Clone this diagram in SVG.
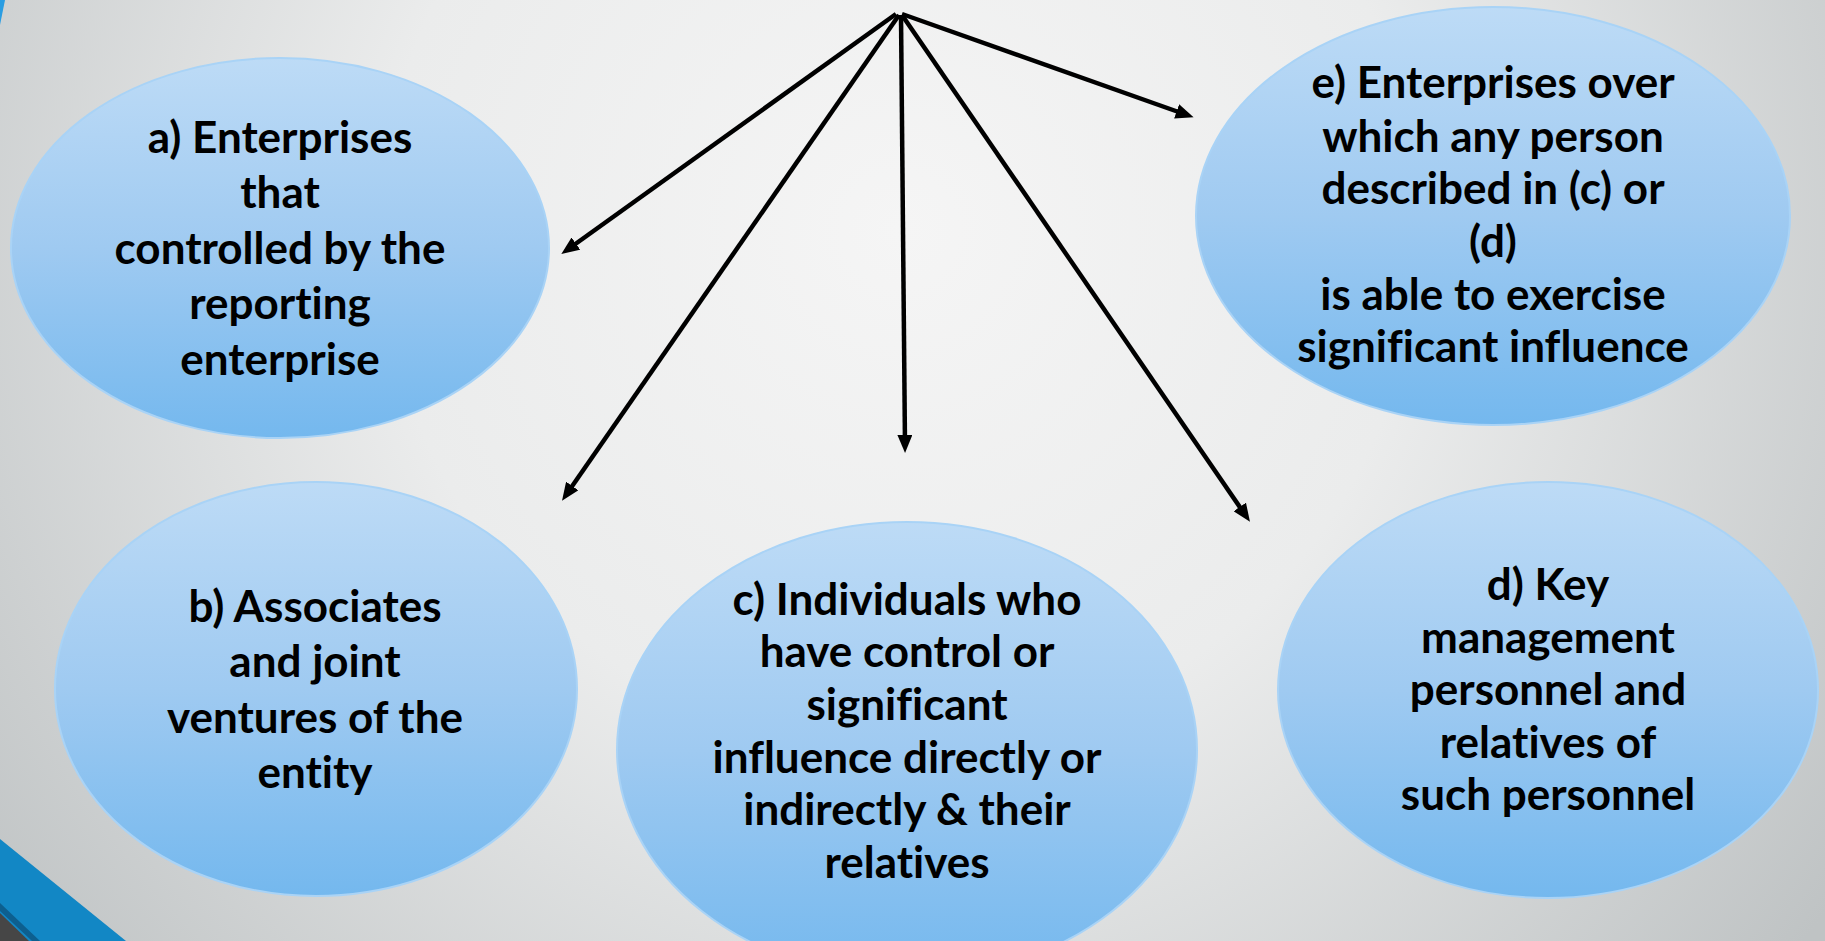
<svg xmlns="http://www.w3.org/2000/svg" width="1825" height="941" viewBox="0 0 1825 941">
<defs>
<radialGradient id="bg" cx="900" cy="230" r="1150" gradientUnits="userSpaceOnUse">
<stop offset="0" stop-color="#f5f5f5"/>
<stop offset="0.45" stop-color="#ebecec"/>
<stop offset="1" stop-color="#bfc3c4"/>
</radialGradient>
<linearGradient id="fill" x1="0" y1="0" x2="0" y2="1">
<stop offset="0" stop-color="#bddbf6"/>
<stop offset="0.5" stop-color="#9fcaf1"/>
<stop offset="1" stop-color="#74b8ee"/>
</linearGradient>
<marker id="ah" viewBox="0 0 18 15" refX="11" refY="7.5" markerWidth="18" markerHeight="15" markerUnits="userSpaceOnUse" orient="auto">
<path d="M0,0 L18,7.5 L0,15 z" fill="#000"/>
</marker>
</defs>
<style>
.node ellipse{fill:url(#fill);stroke:#a9d3f6;stroke-width:2}
.node text{font-family:Lato,"Liberation Sans",sans-serif;font-weight:bold;font-size:44px;fill:#000;text-anchor:middle;font-variant-ligatures:none}
.conn line{stroke:#000;stroke-width:4.5;marker-end:url(#ah)}
</style>
<rect x="0" y="0" width="1825" height="941" fill="url(#bg)"/>
<polygon points="0,0 5,0 0,25" fill="#2a9de2"/>
<polygon points="0,839 126,941 0,941" fill="#1287c5"/>
<polygon points="0,903 40,941 32,941 0,911" fill="#0d5f8f"/>
<polygon points="0,913 29,941 0,941" fill="#464646"/>

<g id="node-a" class="node">
<ellipse cx="280" cy="248" rx="269" ry="190"/>
<text x="280" y="153">a) Enterprises</text>
<text x="280" y="208">that</text>
<text x="280" y="264">controlled by the</text>
<text x="280" y="319">reporting</text>
<text x="280" y="375">enterprise</text>
</g>
<g id="node-b" class="node">
<ellipse cx="316" cy="689" rx="261" ry="207"/>
<text x="315" y="622">b) Associates</text>
<text x="315" y="677">and joint</text>
<text x="315" y="733">ventures of the</text>
<text x="315" y="788">entity</text>
</g>
<g id="node-c" class="node">
<ellipse cx="907" cy="750" rx="290" ry="228"/>
<text x="907" y="615">c) Individuals who</text>
<text x="907" y="667">have control or</text>
<text x="907" y="720">significant</text>
<text x="907" y="773">influence directly or</text>
<text x="907" y="825">indirectly &amp; their</text>
<text x="907" y="878">relatives</text>
</g>
<g id="node-d" class="node">
<ellipse cx="1548" cy="690" rx="270" ry="208"/>
<text x="1548" y="600">d) Key</text>
<text x="1548" y="653">management</text>
<text x="1548" y="705">personnel and</text>
<text x="1548" y="758">relatives of</text>
<text x="1548" y="810">such personnel</text>
</g>
<g id="node-e" class="node">
<ellipse cx="1493" cy="216" rx="297" ry="209"/>
<text x="1493" y="98">e) Enterprises over</text>
<text x="1493" y="152">which any person</text>
<text x="1493" y="204">described in (c) or</text>
<text x="1493" y="257">(d)</text>
<text x="1493" y="310">is able to exercise</text>
<text x="1493" y="362">significant influence</text>
</g>

<g id="connectors" class="conn">
<line x1="896" y1="14" x2="567" y2="250"/>
<line x1="899" y1="15" x2="566" y2="495"/>
<line x1="901" y1="15" x2="905" y2="446"/>
<line x1="902" y1="15" x2="1246" y2="516"/>
<line x1="902" y1="14" x2="1187" y2="115"/>
</g>
</svg>
